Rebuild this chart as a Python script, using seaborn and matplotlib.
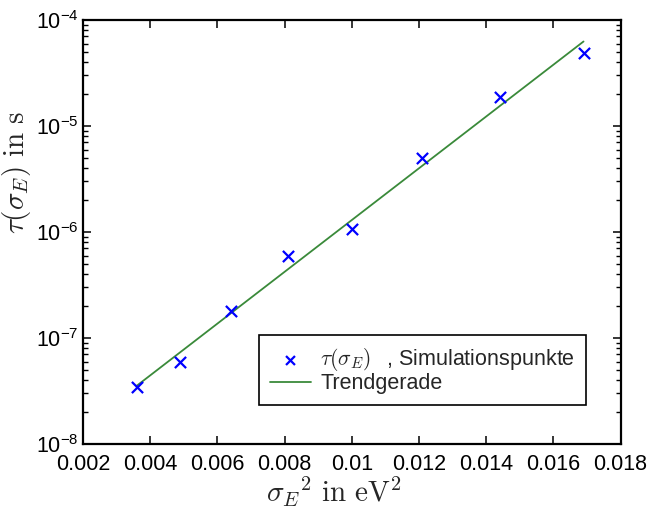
import numpy as np
import pandas as pd
import matplotlib
matplotlib.use("Agg")
import matplotlib.pyplot as plt
import matplotlib.ticker as mticker
import seaborn as sns

# ---- data ----
sigma_sq = [0.0036, 0.0049, 0.0064, 0.0081, 0.0100, 0.0121, 0.0144, 0.0169]
tau = [3.43e-8, 5.99e-8, 1.78e-7, 5.93e-7, 1.065e-6, 5.04e-6, 1.86e-5, 4.84e-5]
x_ticks = [0.002, 0.004, 0.006, 0.008, 0.010, 0.012, 0.014, 0.016, 0.018]
x_tick_labels = ["0.002", "0.004", "0.006", "0.008", "0.01", "0.012", "0.014", "0.016", "0.018"]
y_limits = [1e-8, 1e-4]
label_points = r"$\tau(\sigma_E)\ \,$ , Simulationspunkte"
label_trend = "Trendgerade"

# trend line: least-squares fit of log10(tau) vs sigma^2
coef = np.polyfit(np.array(sigma_sq), np.log10(np.array(tau)), 1)
trend_x = np.array([min(sigma_sq), max(sigma_sq)])
trend_df = pd.DataFrame({"x": trend_x, "y": 10 ** np.polyval(coef, trend_x)})
pts_df = pd.DataFrame({"x": sigma_sq, "y": tau})

sns.set_style("ticks")
plt.rcParams["font.family"] = ["Liberation Sans", "DejaVu Sans"]
plt.rcParams["mathtext.fontset"] = "cm"

fig = plt.figure(figsize=(6.63, 5.12), dpi=100)
ax = fig.add_axes([83 / 663, 1 - 444 / 512, 537.5 / 663, 424 / 512])

sns.scatterplot(data=pts_df, x="x", y="y", ax=ax, marker="x", color="#0000ff",
                s=65, linewidth=1.6, label=label_points, zorder=3)
sns.lineplot(data=trend_df, x="x", y="y", ax=ax, color="#3a8a3a", linewidth=1.3,
             label=label_trend, zorder=2)

ax.set_yscale("log")
ax.set_ylim(*y_limits)
ax.set_xlim(x_ticks[0], x_ticks[-1])
ax.set_xticks(x_ticks)
ax.set_xticklabels(x_tick_labels)
ax.yaxis.set_major_locator(mticker.LogLocator(base=10, numticks=10))
ax.yaxis.set_minor_locator(mticker.LogLocator(base=10, subs=np.arange(2, 10), numticks=20))
ax.yaxis.set_minor_formatter(mticker.NullFormatter())

ax.tick_params(axis="both", which="both", direction="in", top=True, right=True,
               colors="black", labelsize=15.5)
ax.tick_params(axis="both", which="major", length=6, width=1.1)
ax.tick_params(axis="y", which="minor", length=3.5, width=1.0)
ax.tick_params(axis="x", which="major", pad=7)
ax.tick_params(axis="y", which="major", pad=3)
for sp in ax.spines.values():
    sp.set_visible(True)
    sp.set_linewidth(1.6)
    sp.set_color("black")

ax.set_xlabel(r"${\sigma_E}^2\ \mathrm{in}\ \mathrm{eV}^2$", fontsize=21)
ax.set_ylabel(r"$\tau(\sigma_E)\ \mathrm{in\ s}$", fontsize=21)
ax.xaxis.set_label_coords(0.467, -0.072)
ax.yaxis.set_label_coords(-0.093, 0.64)

leg = ax.legend(loc="lower right", bbox_to_anchor=(0.936, 0.092), borderaxespad=0,
                fontsize=15.5, frameon=True, fancybox=False, edgecolor="black",
                framealpha=1, handlelength=1.9, handletextpad=0.45,
                markerscale=0.8, borderpad=0.5, labelspacing=0.0)
leg.get_frame().set_linewidth(1.2)

fig.savefig("out.png", dpi=100)
